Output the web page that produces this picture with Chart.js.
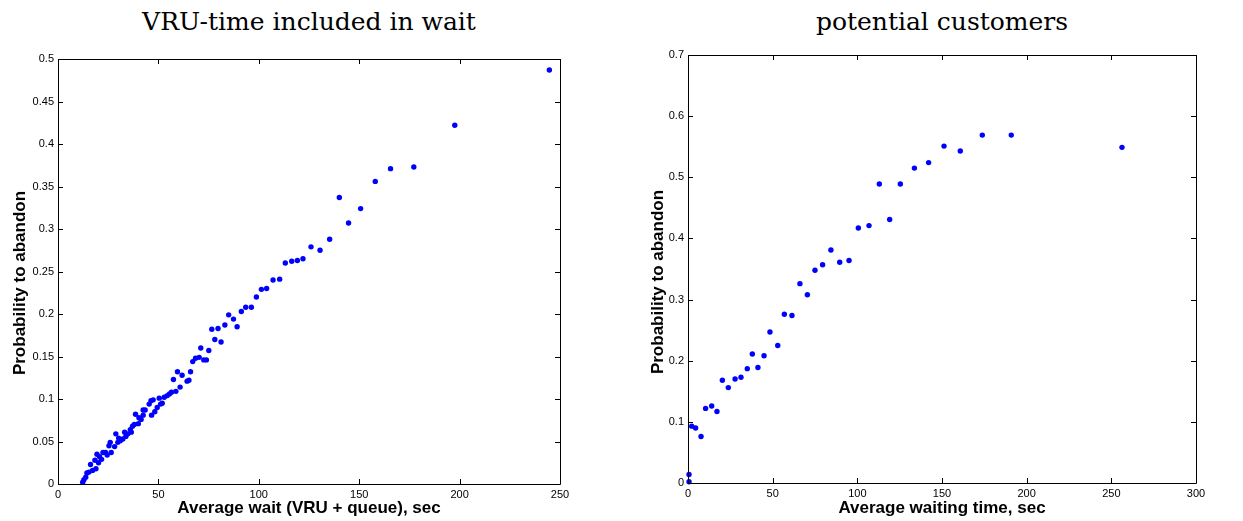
<!DOCTYPE html>
<html>
<head>
<meta charset="utf-8">
<script src="https://cdn.jsdelivr.net/npm/chart.js@4"></script>
<style>
  body { margin: 0; background: #fff; }
  .wrap { position: absolute; top: 0; height: 521px; }
  .title {
    position: absolute; top: 9px; text-align: center;
    font-family: "DejaVu Serif", serif; font-size: 25px; line-height: 1; color: #000;
  }
  .ylab {
    position: absolute; width: 300px; height: 20px; line-height: 20px; text-align: center;
    font: bold 17px "Liberation Sans", Arial, sans-serif; color: #000;
    transform: translate(-50%, -50%) rotate(-90deg);
    white-space: nowrap;
  }
</style>
</head>
<body>
<div class="title" style="left:58px;width:502px">VRU-time included in wait</div>
<div class="title" style="left:688px;width:508px">potential customers</div>
<div class="wrap" style="left:0;width:620px"><canvas id="left"></canvas></div>
<div class="wrap" style="left:640px;width:603px"><canvas id="right"></canvas></div>
<div class="ylab" style="left:20px;top:283px">Probability to abandon</div>
<div class="ylab" style="left:658px;top:282px">Probability to abandon</div>
<script>
// left panel: wait including VRU time
const vruWait = [244.7, 197.6, 177.2, 165.6, 158.0, 140.1, 150.7, 144.7, 135.3, 126.0,
  130.5, 113.2, 116.4, 119.2, 122.0, 107.1, 110.4, 101.3, 103.9, 98.8,
  91.3, 93.5, 96.3, 85.0, 87.4, 83.1, 89.2, 76.6, 79.7, 78.1,
  81.2, 71.1, 75.1, 67.1, 68.5, 70.3, 72.6, 73.9, 66.0, 64.3,
  65.2, 59.5, 61.8, 57.5, 60.8, 56.5, 58.7, 55.5, 54.4, 52.9,
  50.4, 47.4, 46.3, 45.4, 51.9, 51.1, 49.4, 48.2, 46.6, 43.4,
  42.4, 38.6, 40.3, 42.4, 41.4, 40.0, 38.0, 37.1, 36.0, 36.5,
  34.8, 33.2, 33.8, 32.3, 31.0, 30.2, 29.8, 28.8, 28.2, 26.5,
  26.0, 25.4, 24.5, 23.7, 22.4, 21.7, 20.7, 19.4, 20.2, 18.9,
  18.4, 17.2, 16.2, 15.4, 14.4, 13.8, 12.9, 12.3];
const vruAbandon = [0.487, 0.422, 0.373, 0.371, 0.356, 0.337, 0.324, 0.307, 0.288, 0.279,
  0.275, 0.260, 0.262, 0.263, 0.265, 0.240, 0.241, 0.229, 0.230, 0.220,
  0.203, 0.208, 0.208, 0.199, 0.194, 0.187, 0.185, 0.182, 0.183, 0.170,
  0.167, 0.160, 0.157, 0.144, 0.148, 0.149, 0.146, 0.146, 0.132, 0.121,
  0.122, 0.132, 0.128, 0.123, 0.114, 0.108, 0.109, 0.106, 0.104, 0.102,
  0.101, 0.099, 0.098, 0.094, 0.095, 0.094, 0.090, 0.085, 0.081, 0.087,
  0.087, 0.082, 0.078, 0.081, 0.076, 0.071, 0.070, 0.068, 0.064, 0.061,
  0.059, 0.061, 0.056, 0.053, 0.051, 0.054, 0.049, 0.059, 0.044, 0.037,
  0.049, 0.045, 0.034, 0.037, 0.037, 0.029, 0.032, 0.035, 0.025, 0.018,
  0.028, 0.016, 0.023, 0.014, 0.013, 0.008, 0.005, 0.002];

// right panel: potential customers
const custWait = [0.6, 0.6, 2.2, 4.5, 7.7, 10.4, 14.0, 17.1, 20.3, 23.8,
  27.8, 31.3, 35.0, 38.0, 41.3, 44.9, 48.4, 53.0, 56.9, 61.4,
  66.1, 70.5, 75.0, 79.5, 84.4, 89.6, 95.1, 100.6, 106.9, 113.0,
  119.1, 125.4, 133.7, 142.1, 151.2, 160.8, 173.8, 190.9, 256.3];
const custAbandon = [0.002, 0.014, 0.093, 0.090, 0.076, 0.122, 0.126, 0.117, 0.168, 0.156,
  0.170, 0.173, 0.187, 0.211, 0.189, 0.208, 0.247, 0.225, 0.276, 0.274,
  0.326, 0.308, 0.348, 0.357, 0.381, 0.361, 0.364, 0.417, 0.421, 0.489,
  0.431, 0.489, 0.515, 0.524, 0.551, 0.543, 0.569, 0.569, 0.549];

const leftXTicks = [0, 50, 100, 150, 200, 250];
const rightXTicks = [0, 50, 100, 150, 200, 250, 300];

/* box around plot area with inward ticks on all sides */
const frame = {
  id: "frame",
  afterDraw(chart) {
    const { ctx, chartArea: a, scales: { x, y } } = chart;
    ctx.save();
    ctx.strokeStyle = "#000";
    ctx.lineWidth = 1;
    ctx.beginPath();
    ctx.rect(Math.round(a.left) + 0.5, Math.round(a.top) + 0.5,
      Math.round(a.width), Math.round(a.height));
    x.ticks.forEach(t => {
      const px = Math.round(x.getPixelForValue(t.value)) + 0.5;
      ctx.moveTo(px, a.bottom); ctx.lineTo(px, a.bottom - 5);
      ctx.moveTo(px, a.top); ctx.lineTo(px, a.top + 5);
    });
    y.ticks.forEach(t => {
      const py = Math.round(y.getPixelForValue(t.value)) + 0.5;
      ctx.moveTo(a.left, py); ctx.lineTo(a.left + 5, py);
      ctx.moveTo(a.right, py); ctx.lineTo(a.right - 5, py);
    });
    ctx.stroke();
    ctx.restore();
  }
};

const tickFont = { family: "'Liberation Sans', Arial, sans-serif", size: 11 };
const labelFont = { family: "'Liberation Sans', Arial, sans-serif", size: 17, weight: "bold" };

function makeChart(id, xs, ys, o) {
  return new Chart(document.getElementById(id), {
    type: "scatter",
    data: {
      datasets: [{
        data: xs.map((v, i) => ({ x: v, y: ys[i] })),
        backgroundColor: "#0000ff",
        borderWidth: 0,
        pointRadius: 2.7,
        clip: false
      }]
    },
    options: {
      responsive: true,
      maintainAspectRatio: false,
      animation: false,
      layout: { padding: { top: o.top, right: o.right, left: 0, bottom: 0 } },
      plugins: { legend: { display: false }, tooltip: { enabled: false } },
      scales: {
        x: {
          type: "linear", min: 0, max: o.xMax,
          afterBuildTicks: s => { s.ticks = o.xTicks.map(v => ({ value: v })); },
          afterFit: s => { s.height = o.xH; },
          grid: { drawOnChartArea: false, drawTicks: false },
          border: { display: false },
          ticks: { color: "#000", font: tickFont, padding: 4, maxRotation: 0 },
          title: { display: true, text: o.xLabel, color: "#000", font: labelFont, padding: { top: 0, bottom: 2 } }
        },
        y: {
          type: "linear", min: 0, max: o.yMax,
          ticks: {
            stepSize: o.yStep, color: "#000", font: tickFont, padding: 4,
            callback: v => String(parseFloat(v.toFixed(2)))
          },
          afterFit: s => { s.width = o.yW; },
          grid: { drawOnChartArea: false, drawTicks: false },
          border: { display: false },
          title: { display: false }
        }
      }
    },
    plugins: [frame]
  });
}

makeChart("left", vruWait, vruAbandon, {
  top: 59, right: 60, xMax: 250, xTicks: leftXTicks, xH: 37, yMax: 0.5, yStep: 0.05, yW: 58,
  xLabel: "Average wait (VRU + queue), sec"
});
makeChart("right", custWait, custAbandon, {
  top: 55, right: 47, xMax: 300, xTicks: rightXTicks, xH: 38, yMax: 0.7, yStep: 0.1, yW: 48,
  xLabel: "Average waiting time, sec"
});
</script>
</body>
</html>
